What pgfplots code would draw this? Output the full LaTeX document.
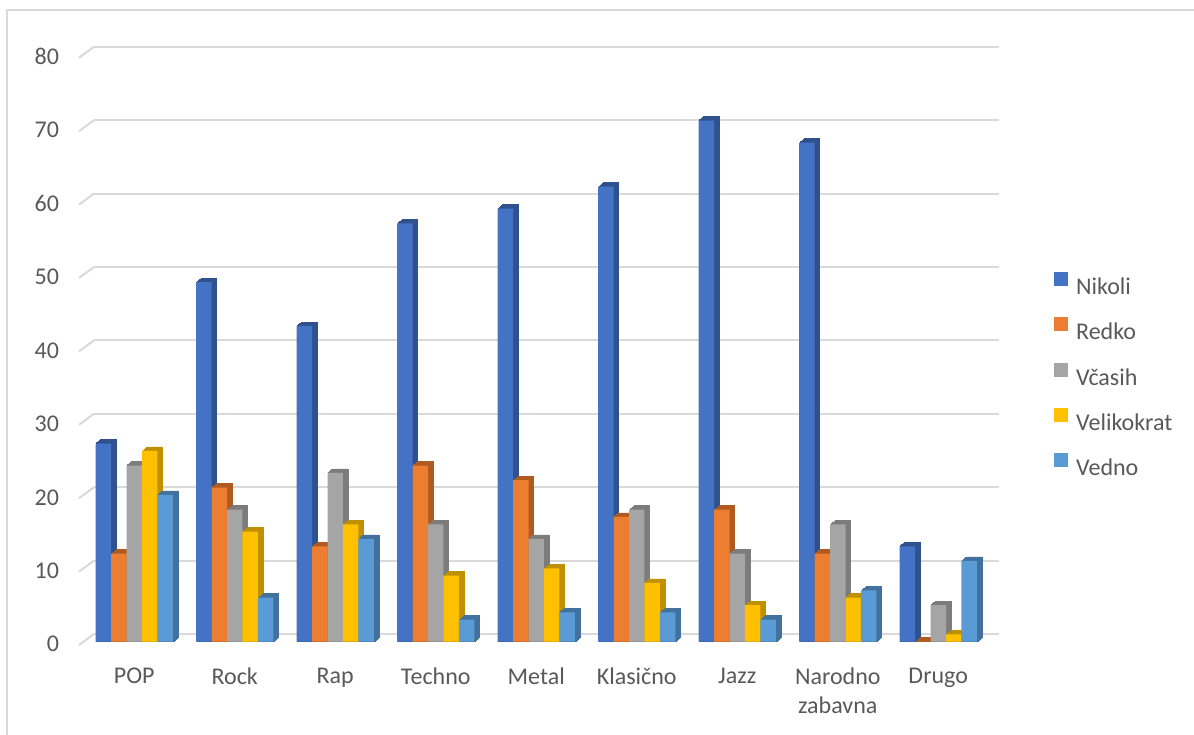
\documentclass[border=0pt]{standalone}
\usepackage{pgfplots}
\usepackage{pgfplotstable}
\pgfplotsset{compat=1.18}
\usepackage{fontspec}
\setmainfont{Carlito}

\definecolor{cNikoli}{HTML}{4472C4}
\definecolor{cRedko}{HTML}{ED7D31}
\definecolor{cVcasih}{HTML}{A5A5A5}
\definecolor{cVelikokrat}{HTML}{FFC000}
\definecolor{cVedno}{HTML}{5B9BD5}
\definecolor{dNikoli}{HTML}{2F528F}
\definecolor{dRedko}{HTML}{AE5A21}
\definecolor{dVcasih}{HTML}{7C7C7C}
\definecolor{dVelikokrat}{HTML}{BF9000}
\definecolor{dVedno}{HTML}{41719C}
\definecolor{gridgray}{HTML}{D9D9D9}
\definecolor{textgray}{HTML}{595959}

% x: 0 POP, 1 Rock, 2 Rap, 3 Techno, 4 Metal, 5 Klasicno, 6 Jazz, 7 Narodno zabavna, 8 Drugo
\pgfplotstableread{
x Nikoli Redko Vcasih Velikokrat Vedno
0 27 12 24 26 20
1 49 21 18 15 6
2 43 13 23 16 14
3 57 24 16 9 3
4 59 22 14 10 4
5 62 17 18 8 4
6 71 18 12 5 3
7 68 12 16 6 7
8 13 0 5 1 11
}\survey

% one 3-D looking bar series: dark extrusion (side and top) behind the front face
\newcommand{\barseries}[4]{%
  \pgfplotsinvokeforeach{1,2,3,4,5}{%
    \addplot[fill=#2, draw=#2, line width=0.3pt, bar shift=#3, xshift=##1*0.5pt, yshift=##1*0.4pt, forget plot]
      table[x=x, y=#4] {\survey};
  }
  \addplot[fill=#1, draw=none, bar shift=#3] table[x=x, y=#4] {\survey};
}

\begin{document}
\begin{tikzpicture}
\useasboundingbox (0,0) rectangle (597pt,367pt);
% chart frame
\draw[gridgray, line width=1pt] (3.25pt,-2pt) -- (3.25pt,361.75pt) -- (600pt,361.75pt);

\begin{axis}[
  at={(42pt,46.15pt)}, anchor=south west,
  x=50.25pt, y=3.67pt,
  xmin=-0.5, xmax=8.5, ymin=0, ymax=80,
  clip=false,
  axis line style={draw=none},
  major tick length=0pt,
  ybar, bar width=0.154,
  xtick={0,...,8},
  xticklabels={POP,Rock,Rap,Techno,Metal,Klasično,Jazz,Narodno\\zabavna,Drugo},
  ytick={0,10,...,80},
  /pgf/number format/assume math mode=true,
  tick label style={font=\fontsize{12}{14.5}\selectfont, text=textgray},
  xticklabel style={align=center, yshift=-9.5pt},
  yticklabel style={xshift=-9pt, yshift=-1.2pt},
  ymajorgrids,
  major grid style={draw=gridgray, line width=1pt, xshift=5pt, yshift=3.85pt},
  legend style={draw=none, fill=none, inner sep=0pt,
    at={(1.0721,0.630)}, anchor=north west,
    font=\fontsize{12}{14.5}\selectfont, text=textgray,
    row sep=11.5pt, column sep=4pt,
    nodes={inner sep=0pt, text height=7.7pt, text depth=0pt}},
  legend cell align=left,
  legend image code/.code={\fill[#1, draw=none] (0pt,0.3pt) rectangle (7pt,7.3pt);},
]
% slanted floor edges of the back-wall gridlines
\pgfplotsinvokeforeach{0,10,20,30,40,50,60,70,80}{
  \draw[gridgray, line width=1pt]
    ([xshift=-2.5pt, yshift=-1.65pt]axis cs:-0.5,#1) -- ([xshift=5pt, yshift=3.85pt]axis cs:-0.5,#1);
}
\barseries{cNikoli}{dNikoli}{-0.308}{Nikoli}
\barseries{cRedko}{dRedko}{-0.154}{Redko}
\barseries{cVcasih}{dVcasih}{0}{Vcasih}
\barseries{cVelikokrat}{dVelikokrat}{0.154}{Velikokrat}
\barseries{cVedno}{dVedno}{0.308}{Vedno}
\legend{Nikoli,Redko,Včasih,Velikokrat,Vedno}
\end{axis}
\end{tikzpicture}
\end{document}
